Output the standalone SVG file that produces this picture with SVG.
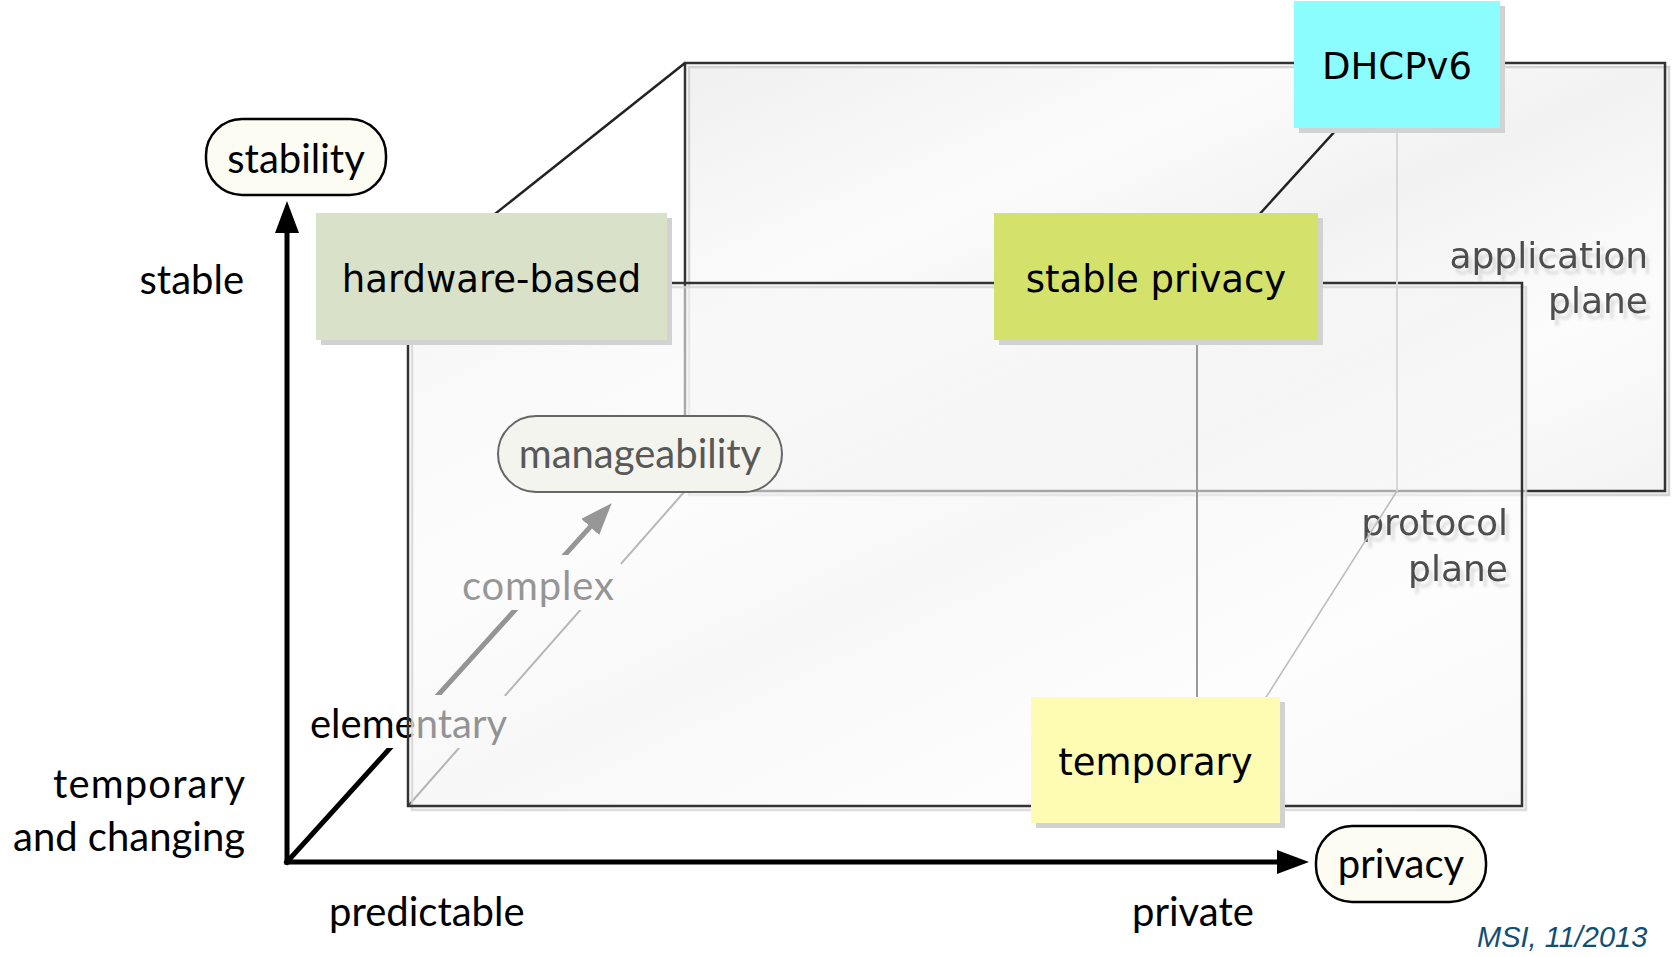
<svg xmlns="http://www.w3.org/2000/svg" width="1677" height="957" viewBox="0 0 1677 957">
<defs>
  <linearGradient id="planeGrad" x1="0" y1="0" x2="1" y2="1">
    <stop offset="0" stop-color="#f0f0f0"/>
    <stop offset="0.3" stop-color="#fbfbfb"/>
    <stop offset="0.5" stop-color="#f2f2f2"/>
    <stop offset="0.75" stop-color="#fcfcfc"/>
    <stop offset="1" stop-color="#f3f3f3"/>
  </linearGradient>
  <marker id="arrow" markerUnits="userSpaceOnUse" markerWidth="32" markerHeight="24" refX="16" refY="12" orient="auto" viewBox="0 0 32 24">
    <path d="M0,0 L32,12 L0,24 z" fill="#000"/>
  </marker>
  <filter id="textShadow" x="-10%" y="-30%" width="130%" height="170%">
    <feDropShadow dx="4" dy="6" stdDeviation="1.5" flood-color="#999" flood-opacity="0.3"/>
  </filter>
</defs>
<style>
  .lbl { font-family: Lato, "Noto Sans", sans-serif; font-size: 40px; fill: #000; }
  .box { font-family: "DejaVu Sans", Verdana, sans-serif; font-size: 37px; fill: #000; text-anchor: middle; }
  .plane-lbl { font-family: "DejaVu Sans", Verdana, sans-serif; font-size: 36px; fill: #4d4d4d; text-anchor: end; filter: url(#textShadow); }
  .frame { fill: none; stroke: #333; stroke-width: 2.5; }
  .pfill { fill: url(#planeGrad); stroke: #d4d4d4; stroke-width: 2.5; }
  .shadow { fill: #d2d2d2; }
  .pill { fill: #fcfcf3; stroke: #000; stroke-width: 2.5; }
  .axis { stroke: #000; stroke-width: 5; fill: none; stroke-linecap: square; marker-end: url(#arrow); }
  .halo { fill: #fff; }
</style>
<rect width="1677" height="957" fill="#fff"/>

<g id="application-plane">
  <rect class="pfill" x="689" y="67" width="980" height="428"/>
  <rect class="frame" x="685" y="63" width="980" height="428"/>
  <text class="plane-lbl" x="1648" y="268">application</text>
  <text class="plane-lbl" x="1648" y="313">plane</text>
</g>

<g id="axes">
  <line class="axis" x1="287" y1="862" x2="287" y2="217"/>
  <line class="axis" x1="287" y1="862" x2="1293" y2="862"/>
  <line class="axis" x1="287" y1="862" x2="601" y2="515"/>
</g>

<g id="connectors-behind">
  <line x1="685" y1="491" x2="408" y2="806" stroke="#555" stroke-width="2"/>
</g>

<g id="elementary">
  <rect class="halo" x="300" y="695" width="225" height="53" rx="26"/>
  <text class="lbl" x="310" y="738">elementary</text>
</g>
<g id="complex">
  <rect class="halo" x="447" y="555" width="181" height="55" rx="27"/>
  <text class="lbl" x="462" y="600" textLength="152">complex</text>
</g>

<g id="protocol-plane">
  <rect class="pfill" x="412" y="287" width="1114" height="523" fill-opacity="0.6" stroke-opacity="0.8"/>
  <rect class="frame" x="408" y="283" width="1114" height="523"/>
  <text class="plane-lbl" x="1508" y="535">protocol</text>
  <text class="plane-lbl" x="1508" y="581">plane</text>
</g>

<g id="connectors">
  <line x1="1397" y1="63" x2="1397" y2="491" stroke="#d8d8d8" stroke-width="2"/>
  <line x1="1197" y1="806" x2="1397" y2="491" stroke="#bdbdbd" stroke-width="1.6"/>
  <line x1="1197" y1="283" x2="1197" y2="806" stroke="#9a9a9a" stroke-width="2"/>
  <line x1="408" y1="283" x2="685" y2="63" stroke="#222" stroke-width="2.5"/>
  <line x1="1197" y1="283" x2="1397" y2="63" stroke="#222" stroke-width="2.5"/>
</g>

<g id="manageability">
  <rect x="498" y="416" width="284" height="76" rx="38" fill="#f4f4ef" stroke="#666" stroke-width="2"/>
  <text class="lbl" x="640" y="468" text-anchor="middle" style="fill:#585858">manageability</text>
</g>

<g id="hardware-based">
  <rect class="shadow" x="321" y="218" width="351" height="127"/>
  <rect x="316" y="213" width="351" height="127" fill="#d9e1c9"/>
  <text class="box" x="491.5" y="292">hardware-based</text>
</g>

<g id="stable-privacy">
  <rect class="shadow" x="999" y="218" width="324" height="127"/>
  <rect x="994" y="213" width="324" height="127" fill="#d4e16a"/>
  <text class="box" x="1156" y="292">stable privacy</text>
</g>

<g id="dhcpv6">
  <rect class="shadow" x="1299" y="6" width="206" height="127"/>
  <rect x="1294" y="1" width="206" height="127" fill="#8cfdff"/>
  <text class="box" x="1397" y="79">DHCPv6</text>
</g>

<g id="temporary">
  <rect class="shadow" x="1036" y="702" width="249" height="126"/>
  <rect x="1031" y="697" width="249" height="126" fill="#fefcb2"/>
  <text class="box" x="1155.5" y="775">temporary</text>
</g>

<g id="stability">
  <rect class="pill" x="206" y="119" width="180" height="76" rx="36"/>
  <text class="lbl" x="296" y="173" text-anchor="middle">stability</text>
</g>

<g id="privacy">
  <rect class="pill" x="1316" y="826" width="170" height="76" rx="36"/>
  <text class="lbl" x="1401" y="878" text-anchor="middle">privacy</text>
</g>

<g id="axis-labels">
  <text class="lbl" x="244" y="294" text-anchor="end">stable</text>
  <text class="lbl" x="245" y="798" text-anchor="end" textLength="192">temporary</text>
  <text class="lbl" x="245" y="851" text-anchor="end">and changing</text>
  <text class="lbl" x="329" y="926">predictable</text>
  <text class="lbl" x="1132" y="926">private</text>
</g>

<text x="1477" y="947" font-family="'Liberation Sans', Arial, sans-serif" font-style="italic" font-size="29" fill="#124e72">MSI, 11/2013</text>
</svg>
